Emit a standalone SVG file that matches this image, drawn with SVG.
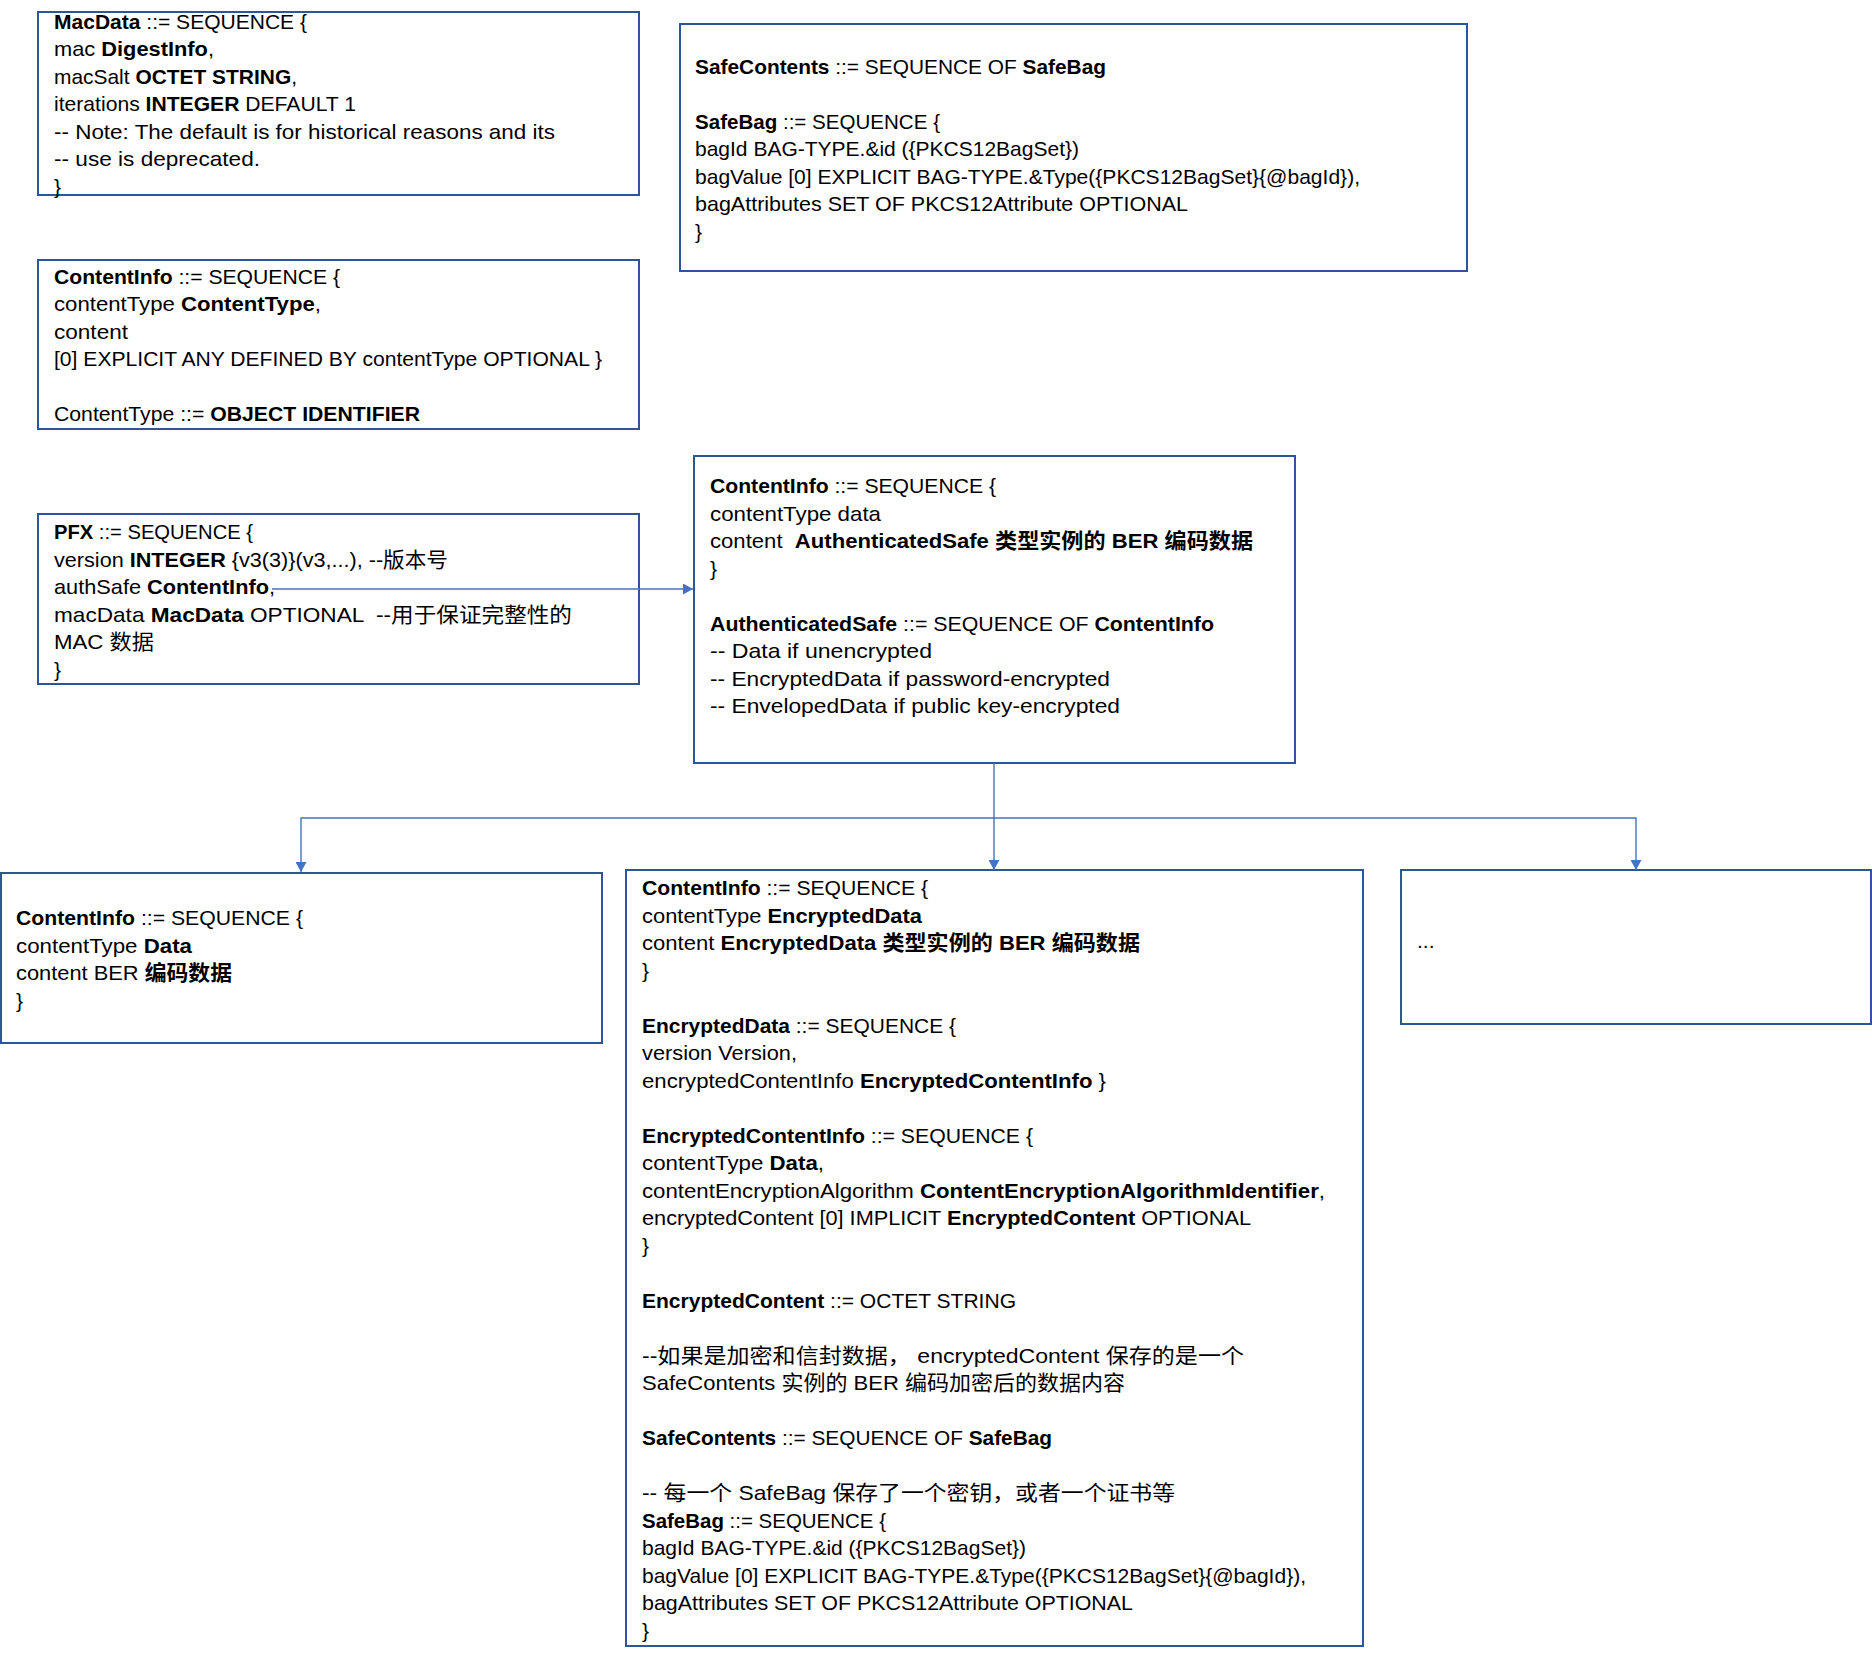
<svg xmlns="http://www.w3.org/2000/svg" width="1872" height="1657" viewBox="0 0 1872 1657">
<style>
  .box { fill: #ffffff; stroke: #2F5597; stroke-width: 2; }
  .t { font-family: "Liberation Sans", "Noto Sans CJK SC", sans-serif; font-size: 21px; fill: #000000; white-space: pre; }
  .b { font-weight: bold; }
  .conn { fill: none; stroke: #4472C4; stroke-width: 1.4; }
</style>
<defs>
  <marker id="arrow" viewBox="0 0 10 11" refX="10" refY="5.5" markerWidth="10" markerHeight="11" markerUnits="userSpaceOnUse" orient="auto">
    <path d="M0,0 L10,5.5 L0,11 Z" fill="#4472C4"/>
  </marker>
</defs>
<rect width="1872" height="1657" fill="#ffffff"/>

<g id="macdata">
  <rect class="box" x="38" y="12" width="601" height="183"/>
  <text class="t" x="54" y="28.5" textLength="253" lengthAdjust="spacingAndGlyphs"><tspan class="b">MacData</tspan> ::= SEQUENCE {</text>
  <text class="t" x="54" y="56" textLength="160" lengthAdjust="spacingAndGlyphs">mac <tspan class="b">DigestInfo</tspan>,</text>
  <text class="t" x="54" y="83.5" textLength="243" lengthAdjust="spacingAndGlyphs">macSalt <tspan class="b">OCTET STRING</tspan>,</text>
  <text class="t" x="54" y="111" textLength="302" lengthAdjust="spacingAndGlyphs">iterations <tspan class="b">INTEGER</tspan> DEFAULT 1</text>
  <text class="t" x="54" y="138.5" textLength="501" lengthAdjust="spacingAndGlyphs">-- Note: The default is for historical reasons and its</text>
  <text class="t" x="54" y="166" textLength="206" lengthAdjust="spacingAndGlyphs">-- use is deprecated.</text>
  <text class="t" x="54" y="193.5">}</text>
</g>

<g id="safecontents-top">
  <rect class="box" x="680" y="24" width="787" height="247"/>
  <text class="t" x="695" y="73.5" textLength="411" lengthAdjust="spacingAndGlyphs"><tspan class="b">SafeContents</tspan> ::= SEQUENCE OF <tspan class="b">SafeBag</tspan></text>
  <text class="t" x="695" y="128.5" textLength="245" lengthAdjust="spacingAndGlyphs"><tspan class="b">SafeBag</tspan> ::= SEQUENCE {</text>
  <text class="t" x="695" y="156" textLength="384" lengthAdjust="spacingAndGlyphs">bagId BAG-TYPE.&amp;id ({PKCS12BagSet})</text>
  <text class="t" x="695" y="183.5" textLength="665" lengthAdjust="spacingAndGlyphs">bagValue [0] EXPLICIT BAG-TYPE.&amp;Type({PKCS12BagSet}{@bagId}),</text>
  <text class="t" x="695" y="211" textLength="493" lengthAdjust="spacingAndGlyphs">bagAttributes SET OF PKCS12Attribute OPTIONAL</text>
  <text class="t" x="695" y="238.5">}</text>
</g>

<g id="contentinfo-def">
  <rect class="box" x="38" y="260" width="601" height="169"/>
  <text class="t" x="54" y="283.5" textLength="286" lengthAdjust="spacingAndGlyphs"><tspan class="b">ContentInfo</tspan> ::= SEQUENCE {</text>
  <text class="t" x="54" y="311" textLength="267" lengthAdjust="spacingAndGlyphs">contentType <tspan class="b">ContentType</tspan>,</text>
  <text class="t" x="54" y="338.5" textLength="74" lengthAdjust="spacingAndGlyphs">content</text>
  <text class="t" x="54" y="366" textLength="548" lengthAdjust="spacingAndGlyphs">[0] EXPLICIT ANY DEFINED BY contentType OPTIONAL }</text>
  <text class="t" x="54" y="421" textLength="366" lengthAdjust="spacingAndGlyphs">ContentType ::= <tspan class="b">OBJECT IDENTIFIER</tspan></text>
</g>

<g id="pfx">
  <rect class="box" x="38" y="514" width="601" height="170"/>
  <text class="t" x="54" y="539" textLength="199" lengthAdjust="spacingAndGlyphs"><tspan class="b">PFX</tspan> ::= SEQUENCE {</text>
  <text class="t" x="54" y="566.5" textLength="394" lengthAdjust="spacingAndGlyphs">version <tspan class="b">INTEGER</tspan> {v3(3)}(v3,...), --版本号</text>
  <text class="t" x="54" y="594" textLength="221" lengthAdjust="spacingAndGlyphs">authSafe <tspan class="b">ContentInfo</tspan>,</text>
  <text class="t" x="54" y="621.5" textLength="518" lengthAdjust="spacingAndGlyphs">macData <tspan class="b">MacData</tspan> OPTIONAL  --用于保证完整性的</text>
  <text class="t" x="54" y="649" textLength="100" lengthAdjust="spacingAndGlyphs">MAC 数据</text>
  <text class="t" x="54" y="676.5">}</text>
</g>

<g id="authsafe">
  <rect class="box" x="694" y="456" width="601" height="307"/>
  <text class="t" x="710" y="493" textLength="286" lengthAdjust="spacingAndGlyphs"><tspan class="b">ContentInfo</tspan> ::= SEQUENCE {</text>
  <text class="t" x="710" y="520.5" textLength="171" lengthAdjust="spacingAndGlyphs">contentType data</text>
  <text class="t" x="710" y="548" textLength="543" lengthAdjust="spacingAndGlyphs">content  <tspan class="b">AuthenticatedSafe 类型实例的 BER 编码数据</tspan></text>
  <text class="t" x="710" y="575.5">}</text>
  <text class="t" x="710" y="630.5" textLength="504" lengthAdjust="spacingAndGlyphs"><tspan class="b">AuthenticatedSafe</tspan> ::= SEQUENCE OF <tspan class="b">ContentInfo</tspan></text>
  <text class="t" x="710" y="658" textLength="222" lengthAdjust="spacingAndGlyphs">-- Data if unencrypted</text>
  <text class="t" x="710" y="685.5" textLength="400" lengthAdjust="spacingAndGlyphs">-- EncryptedData if password-encrypted</text>
  <text class="t" x="710" y="713" textLength="410" lengthAdjust="spacingAndGlyphs">-- EnvelopedData if public key-encrypted</text>
</g>

<g id="data-info">
  <rect class="box" x="1" y="873" width="601" height="170"/>
  <text class="t" x="16" y="925" textLength="287" lengthAdjust="spacingAndGlyphs"><tspan class="b">ContentInfo</tspan> ::= SEQUENCE {</text>
  <text class="t" x="16" y="952.5" textLength="176" lengthAdjust="spacingAndGlyphs">contentType <tspan class="b">Data</tspan></text>
  <text class="t" x="16" y="980" textLength="216" lengthAdjust="spacingAndGlyphs">content BER <tspan class="b">编码数据</tspan></text>
  <text class="t" x="16" y="1007.5">}</text>
</g>

<g id="encrypted-info">
  <rect class="box" x="626" y="870" width="737" height="776"/>
  <text class="t" x="642" y="895" textLength="286" lengthAdjust="spacingAndGlyphs"><tspan class="b">ContentInfo</tspan> ::= SEQUENCE {</text>
  <text class="t" x="642" y="922.5" textLength="280" lengthAdjust="spacingAndGlyphs">contentType <tspan class="b">EncryptedData</tspan></text>
  <text class="t" x="642" y="950" textLength="498" lengthAdjust="spacingAndGlyphs">content <tspan class="b">EncryptedData 类型实例的 BER 编码数据</tspan></text>
  <text class="t" x="642" y="977.5">}</text>
  <text class="t" x="642" y="1032.5" textLength="314" lengthAdjust="spacingAndGlyphs"><tspan class="b">EncryptedData</tspan> ::= SEQUENCE {</text>
  <text class="t" x="642" y="1060" textLength="155" lengthAdjust="spacingAndGlyphs">version Version,</text>
  <text class="t" x="642" y="1087.5" textLength="464" lengthAdjust="spacingAndGlyphs">encryptedContentInfo <tspan class="b">EncryptedContentInfo</tspan> }</text>
  <text class="t" x="642" y="1142.5" textLength="391" lengthAdjust="spacingAndGlyphs"><tspan class="b">EncryptedContentInfo</tspan> ::= SEQUENCE {</text>
  <text class="t" x="642" y="1170" textLength="182" lengthAdjust="spacingAndGlyphs">contentType <tspan class="b">Data</tspan>,</text>
  <text class="t" x="642" y="1197.5" textLength="683" lengthAdjust="spacingAndGlyphs">contentEncryptionAlgorithm <tspan class="b">ContentEncryptionAlgorithmIdentifier</tspan>,</text>
  <text class="t" x="642" y="1225" textLength="609" lengthAdjust="spacingAndGlyphs">encryptedContent [0] IMPLICIT <tspan class="b">EncryptedContent</tspan> OPTIONAL</text>
  <text class="t" x="642" y="1252.5">}</text>
  <text class="t" x="642" y="1307.5" textLength="374" lengthAdjust="spacingAndGlyphs"><tspan class="b">EncryptedContent</tspan> ::= OCTET STRING</text>
  <text class="t" x="642" y="1362.5" textLength="602" lengthAdjust="spacingAndGlyphs">--如果是加密和信封数据， encryptedContent 保存的是一个</text>
  <text class="t" x="642" y="1390" textLength="483" lengthAdjust="spacingAndGlyphs">SafeContents 实例的 BER 编码加密后的数据内容</text>
  <text class="t" x="642" y="1445" textLength="410" lengthAdjust="spacingAndGlyphs"><tspan class="b">SafeContents</tspan> ::= SEQUENCE OF <tspan class="b">SafeBag</tspan></text>
  <text class="t" x="642" y="1500" textLength="533" lengthAdjust="spacingAndGlyphs">-- 每一个 SafeBag 保存了一个密钥，或者一个证书等</text>
  <text class="t" x="642" y="1527.5" textLength="244" lengthAdjust="spacingAndGlyphs"><tspan class="b">SafeBag</tspan> ::= SEQUENCE {</text>
  <text class="t" x="642" y="1555" textLength="384" lengthAdjust="spacingAndGlyphs">bagId BAG-TYPE.&amp;id ({PKCS12BagSet})</text>
  <text class="t" x="642" y="1582.5" textLength="664" lengthAdjust="spacingAndGlyphs">bagValue [0] EXPLICIT BAG-TYPE.&amp;Type({PKCS12BagSet}{@bagId}),</text>
  <text class="t" x="642" y="1610" textLength="491" lengthAdjust="spacingAndGlyphs">bagAttributes SET OF PKCS12Attribute OPTIONAL</text>
  <text class="t" x="642" y="1637.5">}</text>
</g>

<g id="more">
  <rect class="box" x="1401" y="870" width="470" height="154"/>
  <text class="t" x="1417" y="948">...</text>
</g>

<g id="connectors">
  <path class="conn" d="M272,589 H693" marker-end="url(#arrow)"/>
  <path class="conn" d="M994,763 V870" marker-end="url(#arrow)"/>
  <path class="conn" d="M994,818 H301 V872" marker-end="url(#arrow)"/>
  <path class="conn" d="M994,818 H1636 V870" marker-end="url(#arrow)"/>
</g>
</svg>
